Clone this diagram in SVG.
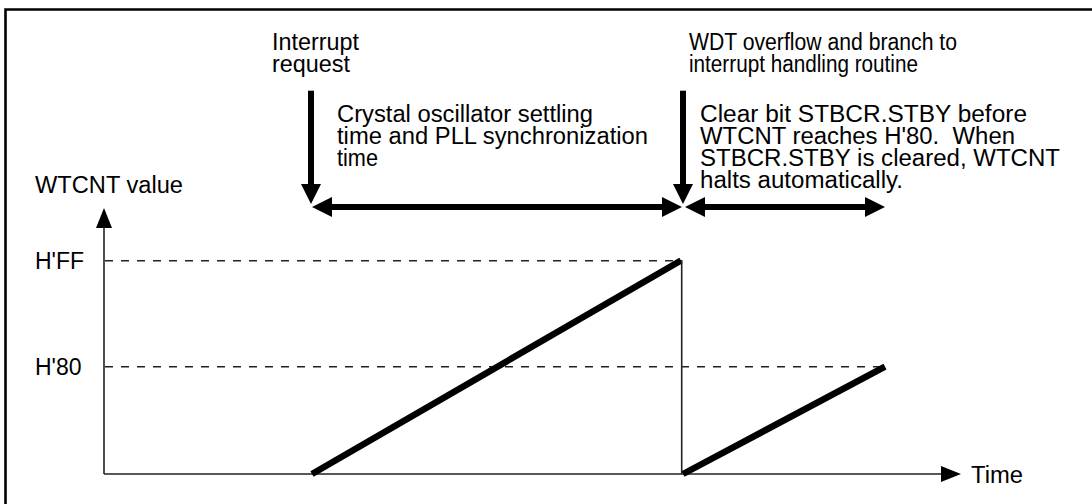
<svg xmlns="http://www.w3.org/2000/svg" width="1092" height="504" viewBox="0 0 1092 504">
<style>
text{font-family:"Liberation Sans",Arial,sans-serif;font-size:23px;fill:#000;white-space:pre}
.axis{stroke:#222;stroke-width:1.6;fill:none}
.dash{stroke:#222;stroke-width:1.6;stroke-dasharray:8 8;fill:none}
.ramp{stroke:#000;stroke-width:6.5;fill:none}
.thick{stroke:#000;stroke-width:6;fill:none}
.head{fill:#000}
</style>
<rect width="1092" height="504" fill="#fff"/>
<path d="M5.5 504 V9.5 H1092" stroke="#000" stroke-width="2.6" fill="none"/>

<g id="labels">
<g id="interrupt-request">
<text><tspan x="272" y="50" textLength="87" lengthAdjust="spacingAndGlyphs">Interrupt</tspan><tspan x="272" y="71.7" textLength="78" lengthAdjust="spacingAndGlyphs">request</tspan></text>
</g>
<g id="wdt-overflow">
<text><tspan x="689" y="50" textLength="268" lengthAdjust="spacingAndGlyphs">WDT overflow and branch to</tspan><tspan x="689" y="71.7" textLength="229" lengthAdjust="spacingAndGlyphs">interrupt handling routine</tspan></text>
</g>
<g id="settling">
<text><tspan x="337" y="121.7" textLength="256" lengthAdjust="spacingAndGlyphs">Crystal oscillator settling</tspan><tspan x="337" y="143.9" textLength="311" lengthAdjust="spacingAndGlyphs">time and PLL synchronization</tspan><tspan x="337" y="166.1" textLength="41" lengthAdjust="spacingAndGlyphs">time</tspan></text>
</g>
<g id="clear-bit">
<text><tspan x="700" y="121.7" textLength="327" lengthAdjust="spacingAndGlyphs">Clear bit STBCR.STBY before</tspan><tspan x="700" y="143.9" textLength="315" lengthAdjust="spacingAndGlyphs">WTCNT reaches H'80.  When</tspan><tspan x="700" y="166.1" textLength="360" lengthAdjust="spacingAndGlyphs">STBCR.STBY is cleared, WTCNT</tspan><tspan x="700" y="188.3" textLength="203" lengthAdjust="spacingAndGlyphs">halts automatically.</tspan></text>
</g>
<g id="y-label"><text x="35" y="192.7" textLength="148" lengthAdjust="spacingAndGlyphs">WTCNT value</text></g>
<g id="hff"><text x="35" y="268.7">H'FF</text></g>
<g id="h80"><text x="35" y="374.7">H'80</text></g>
<g id="time"><text x="971" y="482.5" textLength="52" lengthAdjust="spacingAndGlyphs">Time</text></g>
</g>

<g id="axes">
<line class="axis" x1="104" y1="474" x2="104" y2="225"/>
<polygon class="head" points="104,208 96,228 112,228"/>
<line class="axis" x1="104" y1="474" x2="943" y2="474"/>
<polygon class="head" points="961,474 941,466 941,482"/>
</g>

<g id="guides">
<line class="dash" x1="105" y1="260.7" x2="680" y2="260.7"/>
<line class="dash" x1="105" y1="366.7" x2="880" y2="366.7"/>
</g>

<g id="connectors">
<line class="thick" x1="311" y1="90.7" x2="311" y2="187"/>
<polygon class="head" points="311,204 301,184 321,184"/>
<line class="thick" x1="683" y1="90.7" x2="683" y2="187"/>
<polygon class="head" points="683,204 673,184 693,184"/>
<line class="thick" x1="330" y1="207" x2="664" y2="207"/>
<polygon class="head" points="312,207 332,197 332,217"/>
<polygon class="head" points="682,207 662,197 662,217"/>
<line class="thick" x1="703" y1="207" x2="866" y2="207"/>
<polygon class="head" points="685,207 705,197 705,217"/>
<polygon class="head" points="885,207 865,197 865,217"/>
</g>

<g id="waveform">
<line class="ramp" x1="312" y1="474" x2="681" y2="260.5"/>
<line class="axis" x1="681.7" y1="260" x2="681.7" y2="474"/>
<line class="ramp" x1="683" y1="474" x2="885" y2="366.7"/>
</g>
</svg>
